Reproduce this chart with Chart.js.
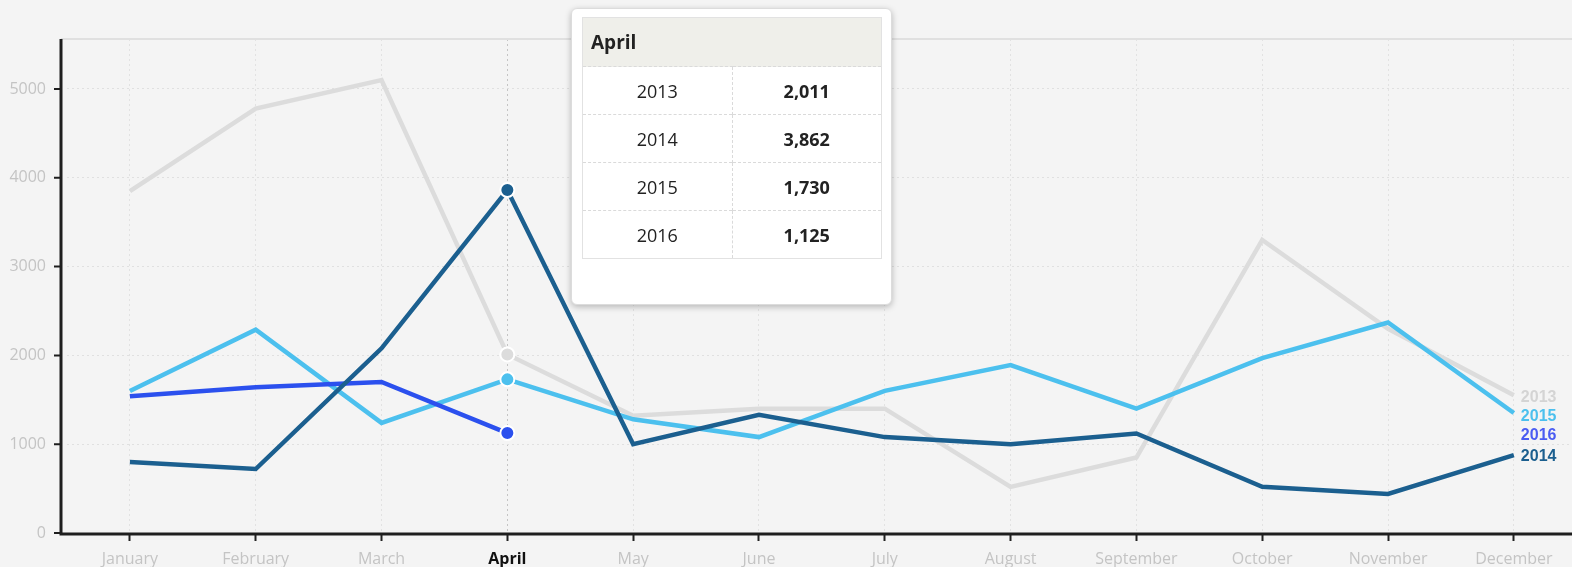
<!DOCTYPE html>
<html>
<head>
<meta charset="utf-8">
<script src="https://cdn.jsdelivr.net/npm/chart.js@4/dist/chart.umd.min.js"></script>
<style>
  html, body { margin: 0; padding: 0; background: #f4f4f4; }
  #wrap { position: relative; width: 1572px; height: 567px; overflow: hidden; }
  #inner { position: absolute; left: 0; top: 0; width: 1579px; height: 567px; }
  #chartTooltip {
    position: absolute; width: 321px; height: 297px; box-sizing: border-box;
    background: #fff; border: 1px solid #dcdcdc; border-radius: 6px;
    box-shadow: 0 2px 6px rgba(0,0,0,0.25); padding: 8px 10px;
    font-family: "Open Sans", sans-serif; color: #222; pointer-events: none;
  }
  #chartTooltip table { width: 300px; border-collapse: collapse; border: 1px solid #e2e2e2; }
  #chartTooltip th {
    background: #efefea; text-align: left; font-size: 19px; font-weight: bold;
    height: 49px; padding: 0 0 0 8px; box-sizing: border-box;
  }
  #chartTooltip td {
    height: 48px; text-align: center; font-size: 18px; width: 50%;
    border-top: 1px dashed #dadada; box-sizing: border-box;
  }
  #chartTooltip td + td { border-left: 1px dashed #dadada; font-weight: bold; }
</style>
</head>
<body>
<div id="wrap">
  <div id="inner"><canvas id="lineChart"></canvas></div>
  <div id="chartTooltip" style="opacity:0"></div>
</div>
<script>
// chart data
const months = ["January", "February", "March", "April", "May", "June",
  "July", "August", "September", "October", "November", "December"];
const years = ["2013", "2014", "2015", "2016"];
const sales2013 = [3850, 4780, 5100, 2011, 1320, 1400, 1400, 520, 850, 3300, 2300, 1550];
const sales2014 = [800, 720, 2080, 3862, 1000, 1330, 1080, 1000, 1120, 520, 440, 878];
const sales2015 = [1600, 2290, 1240, 1730, 1280, 1080, 1600, 1890, 1400, 1970, 2370, 1351];
const sales2016 = [1540, 1640, 1700, 1125, null, null, null, null, null, null, null, null];
const yTicks = [0, 1000, 2000, 3000, 4000, 5000];
const ACTIVE = 3; // April is highlighted

const colors = { "2013": "#dcdcdc", "2014": "#1b5f8f", "2015": "#4cc0ee", "2016": "#2b50ee" };
const labelColors = { "2013": "#d4d4d4", "2014": "#1b5f8f", "2015": "#4cc0ee", "2016": "#4a5cf2" };

function makeSet(label, data, order) {
  return {
    label: label,
    data: data,
    order: order,
    borderColor: colors[label],
    backgroundColor: colors[label],
    borderWidth: 4.5,
    tension: 0,
    spanGaps: false,
    pointRadius: (ctx) => ctx.dataIndex === ACTIVE ? 7 : 0,
    pointHoverRadius: 7,
    pointBackgroundColor: colors[label],
    pointHoverBackgroundColor: colors[label],
    pointBorderColor: "#fff",
    pointHoverBorderColor: "#fff",
    pointBorderWidth: 2,
    pointHoverBorderWidth: 2
  };
}

// axis lines sit a few px left of the plot area, like the original
const axisLines = {
  id: "axisLines",
  beforeDatasetsDraw(chart) {
    const { ctx, chartArea } = chart;
    const yScale = chart.scales.y;
    const ax = chartArea.left - 6;
    ctx.save();
    ctx.strokeStyle = "#e0e0e0";
    ctx.lineWidth = 2;
    ctx.beginPath();
    ctx.moveTo(ax, chartArea.top);
    ctx.lineTo(chartArea.right, chartArea.top);
    ctx.stroke();

    ctx.strokeStyle = "#1e1e1e";
    ctx.lineWidth = 3;
    ctx.beginPath();
    ctx.moveTo(ax, chartArea.top);
    ctx.lineTo(ax, chartArea.bottom + 2);
    ctx.moveTo(ax - 1.5, chartArea.bottom + 1);
    ctx.lineTo(chartArea.right, chartArea.bottom + 1);
    ctx.stroke();

    ctx.lineWidth = 2;
    ctx.beginPath();
    yTicks.forEach((v) => {
      const y = yScale.getPixelForValue(v);
      ctx.moveTo(ax - 7, y);
      ctx.lineTo(ax, y);
    });
    ctx.stroke();
    ctx.restore();
  }
};

// year labels at the right end of each line
const endLabels = {
  id: "endLabels",
  afterDatasetsDraw(chart) {
    const ctx = chart.ctx;
    const items = [];
    chart.data.datasets.forEach((ds, i) => {
      let last = ds.data.length - 1;
      while (last >= 0 && ds.data[last] == null) last--;
      const meta = chart.getDatasetMeta(i);
      const pt = meta.data[last];
      const xEnd = meta.data[ds.data.length - 1].x;
      items.push({ text: ds.label, x: xEnd + 7, y: pt.y, color: labelColors[ds.label] });
    });
    items.sort((a, b) => a.y - b.y);
    for (let i = 1; i < items.length; i++) {
      if (items[i].y - items[i - 1].y < 19) items[i].y = items[i - 1].y + 19;
    }
    ctx.save();
    ctx.font = "bold 16px 'Liberation Sans', Arial, sans-serif";
    ctx.textBaseline = "middle";
    items.forEach((it) => {
      ctx.fillStyle = it.color;
      ctx.fillText(it.text, it.x, it.y + 2);
    });
    ctx.restore();
  }
};

function externalTooltip(context) {
  const { tooltip } = context;
  const el = document.getElementById("chartTooltip");
  if (tooltip.opacity === 0) { el.style.opacity = 0; return; }
  let html = "<table><tr><th colspan='2'>" + tooltip.title[0] + "</th></tr>";
  tooltip.dataPoints.forEach((dp) => {
    html += "<tr><td>" + dp.dataset.label + "</td><td>" +
      dp.raw.toLocaleString("en-US") + "</td></tr>";
  });
  html += "</table>";
  el.innerHTML = html;
  el.style.opacity = 1;
  el.style.left = (tooltip.caretX + 63) + "px";
  el.style.top = "8px";
}

const chart = new Chart(document.getElementById("lineChart"), {
  type: "line",
  data: {
    labels: months,
    datasets: [
      makeSet(years[0], sales2013, 4),
      makeSet(years[1], sales2014, 1),
      makeSet(years[2], sales2015, 3),
      makeSet(years[3], sales2016, 2)
    ]
  },
  plugins: [axisLines, endLabels],
  options: {
    responsive: true,
    maintainAspectRatio: false,
    animation: false,
    events: [],
    layout: { padding: { top: 39, right: 0, bottom: 0, left: 0 } },
    interaction: { mode: "index", intersect: false },
    plugins: {
      legend: { display: false },
      tooltip: {
        enabled: false,
        external: externalTooltip,
        filter: (item) => item.raw != null
      }
    },
    scales: {
      x: {
        offset: true,
        afterFit: (scale) => { scale.height = 34; },
        grid: {
          color: (ctx) => ctx.index === ACTIVE ? "#c4c4c4" : "#e2e2e2",
          lineWidth: 1,
          tickColor: "#222",
          tickLength: 8,
          tickWidth: 2
        },
        border: { display: false, dash: [2, 3] },
        ticks: {
          padding: 9,
          maxRotation: 0,
          autoSkip: false,
          color: (ctx) => ctx.index === ACTIVE ? "#111" : "#c4c4c4",
          font: (ctx) => ({
            family: "'Open Sans', sans-serif",
            size: 16,
            weight: ctx.index === ACTIVE ? "bold" : "normal"
          })
        }
      },
      y: {
        min: 0,
        max: 5563,
        afterFit: (scale) => { scale.width = 67; },
        afterBuildTicks: (scale) => { scale.ticks = yTicks.map((v) => ({ value: v })); },
        grid: {
          color: "#e0e0e0",
          lineWidth: 1,
          drawTicks: false
        },
        border: { display: false, dash: [2, 3] },
        ticks: {
          padding: 21,
          color: "#c4c4c4",
          font: { family: "'Open Sans', sans-serif", size: 16 },
          callback: (v) => String(v)
        }
      }
    }
  }
});

// show the April tooltip and highlight like the reference
const active = chart.data.datasets.map((ds, i) => ({ datasetIndex: i, index: ACTIVE }));
const pt = chart.getDatasetMeta(1).data[ACTIVE];
chart.setActiveElements(active);
chart.tooltip.setActiveElements(active, { x: pt.x, y: pt.y });
chart.update();
</script>
</body>
</html>
